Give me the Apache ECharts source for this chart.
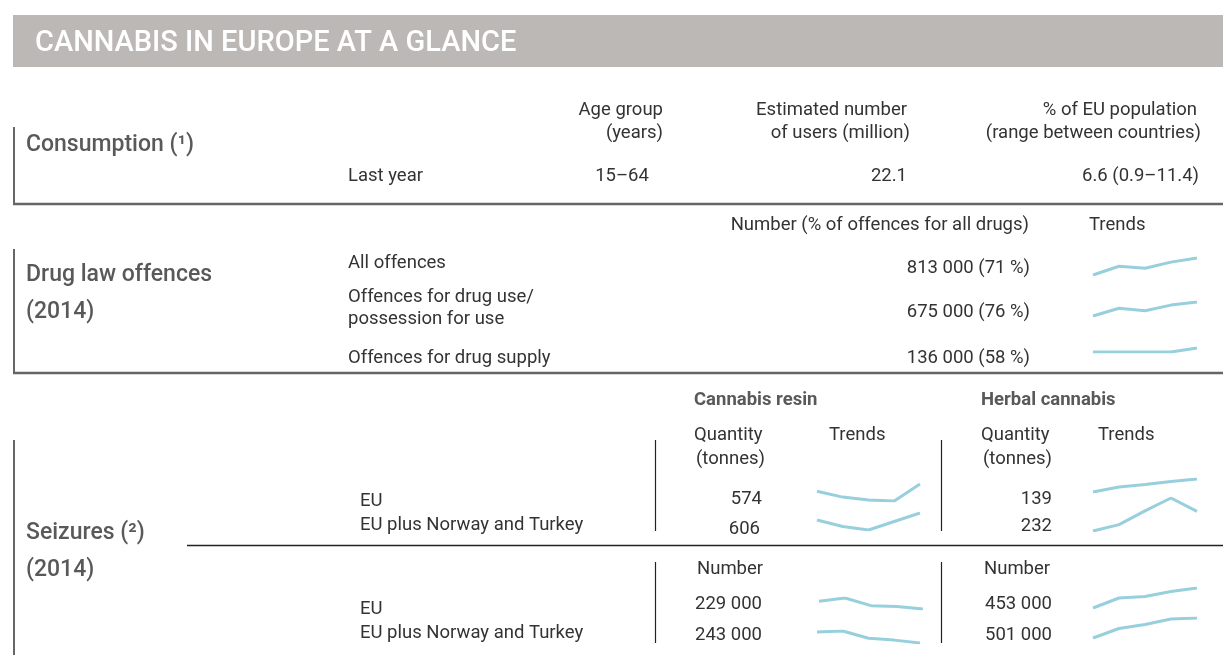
<!DOCTYPE html>
<html>
<head>
<meta charset="utf-8">
<script src="https://cdn.jsdelivr.net/npm/echarts@6/dist/echarts.min.js"></script>
<style>
  html, body { margin: 0; padding: 0; background: #fff; }
  #chart { width: 1223px; height: 655px; }
</style>
</head>
<body>
<div id="chart"></div>
<script>
// ---- data ----
const years = ['1', '2', '3', '4', '5']

// consumption
const consumptionHeaders = [['Age group', '(years)'], ['Estimated number', 'of users (million)'], ['% of EU population', '(range between countries)']]
const consumptionRow = ['Last year', '15–64', '22.1', '6.6 (0.9–11.4)']

// drug law offences
const offenceLabels = [['All offences'], ['Offences for drug use/', 'possession for use'], ['Offences for drug supply']]
const offenceValues = ['813 000 (71 %)', '675 000 (76 %)', '136 000 (58 %)']
const trendAllOffences = [100, 117, 113, 125, 133]
const trendUseOffences = [100, 115, 110, 121, 127]
const trendSupplyOffences = [100, 100, 100, 100, 108]

// seizures
const seizureRegions = ['EU', 'EU plus Norway and Turkey']
const resinTonnes = ['574', '606']
const herbalTonnes = ['139', '232']
const resinNumber = ['229 000', '243 000']
const herbalNumber = ['453 000', '501 000']
const trendResinTonnesEU = [100, 88, 82, 80, 115]
const trendResinTonnesEUplus = [100, 87, 80, 97, 114]
const trendHerbalTonnesEU = [100, 110, 115, 121, 126]
const trendHerbalTonnesEUplus = [100, 113, 141, 167, 140]
const trendResinNumberEU = [100, 107, 91, 89, 84]
const trendResinNumberEUplus = [100, 102, 87, 83, 77]
const trendHerbalNumberEU = [100, 120, 123, 133, 140]
const trendHerbalNumberEUplus = [100, 119, 127, 138, 140]

// ---- layout ----
const FONT = 'Roboto, "Liberation Sans", sans-serif'
const TEXT = '#333'
const HEAD = '#595959'
const LINE = '#666'
const SPARK = '#98cfdd'
const BODY = 18.5
const SECTION = 23

const sparks = [
  { data: trendAllOffences, left: 1093, top: 258, width: 104, height: 17 },
  { data: trendUseOffences, left: 1093, top: 302, width: 104, height: 14 },
  { data: trendSupplyOffences, left: 1093, top: 348, width: 104, height: 4 },
  { data: trendResinTonnesEU, left: 817, top: 484, width: 103, height: 17 },
  { data: trendResinTonnesEUplus, left: 817, top: 513, width: 103, height: 17 },
  { data: trendHerbalTonnesEU, left: 1093, top: 479, width: 104, height: 13 },
  { data: trendHerbalTonnesEUplus, left: 1093, top: 498, width: 104, height: 33 },
  { data: trendResinNumberEU, left: 819, top: 598, width: 104, height: 11 },
  { data: trendResinNumberEUplus, left: 817, top: 631, width: 103, height: 12 },
  { data: trendHerbalNumberEU, left: 1093, top: 588, width: 104, height: 20 },
  { data: trendHerbalNumberEUplus, left: 1093, top: 618, width: 104, height: 20 }
]

function txt(text, x, y, opt = {}) {
  return {
    type: 'text',
    x: x,
    y: y + 2,
    silent: true,
    style: {
      text: text,
      fill: opt.color || TEXT,
      fontFamily: FONT,
      fontSize: opt.size || BODY,
      fontWeight: opt.weight || 'normal',
      textAlign: opt.align || 'left',
      textVerticalAlign: 'middle',
      align: opt.align || 'left',
      verticalAlign: 'middle'
    }
  }
}

function line(x1, y1, x2, y2, w, color) {
  return {
    type: 'line',
    silent: true,
    shape: { x1: x1, y1: y1, x2: x2, y2: y2 },
    style: { stroke: color || LINE, lineWidth: w || 1 }
  }
}

const section = { size: SECTION, color: HEAD, weight: 500 }

const graphics = [
  // header band
  { type: 'rect', silent: true, shape: { x: 13, y: 15, width: 1210, height: 52 }, style: { fill: '#bcb8b6' } },
  txt('CANNABIS IN EUROPE AT A GLANCE', 35, 42, { size: 29, color: '#fff', weight: 500 }),

  // consumption block
  line(14, 127, 14, 204, 2),
  line(13, 204, 1223, 204, 2.5),
  txt('Consumption (¹)', 26, 143, section),
  txt(consumptionHeaders[0][0], 663, 108, { align: 'right' }),
  txt(consumptionHeaders[0][1], 663, 131, { align: 'right' }),
  txt(consumptionHeaders[1][0], 907, 108, { align: 'right' }),
  txt(consumptionHeaders[1][1], 910, 131, { align: 'right' }),
  txt(consumptionHeaders[2][0], 1197, 108, { align: 'right' }),
  txt(consumptionHeaders[2][1], 1201, 131, { align: 'right' }),
  txt(consumptionRow[0], 348, 174),
  txt(consumptionRow[1], 622, 174, { align: 'center' }),
  txt(consumptionRow[2], 907, 174, { align: 'right' }),
  txt(consumptionRow[3], 1199, 174, { align: 'right' }),

  // drug law offences block
  line(14, 249, 14, 373, 2),
  line(13, 373, 1223, 373, 2.5),
  txt('Number (% of offences for all drugs)', 1029, 223, { align: 'right' }),
  txt('Trends', 1089, 223),
  txt('Drug law offences', 26, 273, section),
  txt('(2014)', 26, 310, section),
  txt(offenceLabels[0][0], 348, 261),
  txt(offenceLabels[1][0], 348, 295),
  txt(offenceLabels[1][1], 348, 317),
  txt(offenceLabels[2][0], 348, 356),
  txt(offenceValues[0], 1030, 266, { align: 'right' }),
  txt(offenceValues[1], 1030, 310, { align: 'right' }),
  txt(offenceValues[2], 1030, 356, { align: 'right' }),

  // seizures block
  line(14, 440, 14, 655, 2),
  line(187, 545.5, 1223, 545.5, 1.3, '#222'),
  line(655.5, 440, 655.5, 531, 1.2, '#222'),
  line(941.5, 440, 941.5, 531, 1.2, '#222'),
  line(655.5, 562, 655.5, 643, 1.2, '#222'),
  line(941.5, 562, 941.5, 643, 1.2, '#222'),
  txt('Seizures (²)', 26, 531, section),
  txt('(2014)', 26, 568, section),
  txt('Cannabis resin', 694, 398, { size: 18.5, color: HEAD, weight: 'bold' }),
  txt('Herbal cannabis', 981, 398, { size: 18.5, color: HEAD, weight: 'bold' }),
  txt('Quantity', 694, 433),
  txt('(tonnes)', 696, 457),
  txt('Trends', 829, 433),
  txt('Quantity', 981, 433),
  txt('(tonnes)', 983, 457),
  txt('Trends', 1098, 433),
  txt(seizureRegions[0], 360, 499),
  txt(seizureRegions[1], 360, 523),
  txt(resinTonnes[0], 762, 497, { align: 'right' }),
  txt(resinTonnes[1], 760, 527, { align: 'right' }),
  txt(herbalTonnes[0], 1052, 497, { align: 'right' }),
  txt(herbalTonnes[1], 1052, 524, { align: 'right' }),
  txt('Number', 697, 567),
  txt('Number', 984, 567),
  txt(seizureRegions[0], 360, 607),
  txt(seizureRegions[1], 360, 631),
  txt(resinNumber[0], 762, 602, { align: 'right' }),
  txt(resinNumber[1], 762, 633, { align: 'right' }),
  txt(herbalNumber[0], 1052, 602, { align: 'right' }),
  txt(herbalNumber[1], 1052, 633, { align: 'right' })
]

const chart = echarts.init(document.getElementById('chart'), null, { renderer: 'canvas' })

const option = {
  backgroundColor: '#fff',
  animation: false,
  graphic: graphics,
  grid: sparks.map(s => ({ left: s.left, top: s.top, width: s.width, height: s.height, containLabel: false })),
  xAxis: sparks.map((s, i) => ({ type: 'category', gridIndex: i, data: years, boundaryGap: false, show: false })),
  yAxis: sparks.map((s, i) => ({ type: 'value', gridIndex: i, min: 'dataMin', max: 'dataMax', show: false, splitLine: { show: false } })),
  series: sparks.map((s, i) => ({
    type: 'line',
    xAxisIndex: i,
    yAxisIndex: i,
    data: s.data,
    symbol: 'none',
    silent: true,
    lineStyle: { color: SPARK, width: 3 }
  }))
}

chart.setOption(option)
</script>
</body>
</html>
